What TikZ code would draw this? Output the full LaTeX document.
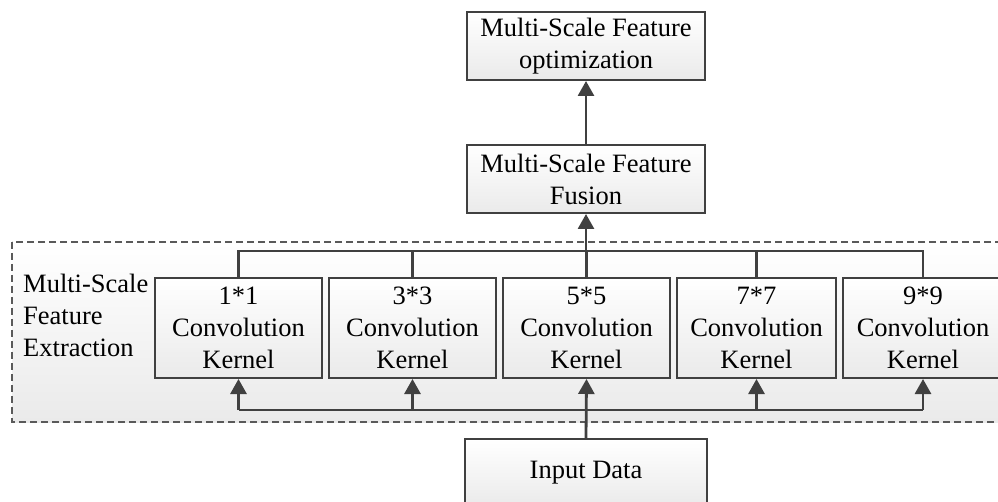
\documentclass[tikz,border=0pt]{standalone}
\usepackage{fontspec}
\setmainfont{Liberation Serif}
\usetikzlibrary{positioning,arrows.meta}
\definecolor{linegray}{HTML}{404040}
\definecolor{dashgray}{HTML}{5A5A5A}
\definecolor{shadegray}{HTML}{EAEAEA}

\tikzset{
  box/.style={draw=linegray, line width=2pt, top color=white, bottom color=shadegray,
    align=center, inner sep=0pt, font=\fontsize{26.5}{32}\selectfont},
  kernelbox/.style={box, minimum height=100pt},
  conn/.style={draw=linegray, line width=2.8pt},
  arrow/.style={conn, -{Triangle[length=15pt,width=16pt]}}
}

\begin{document}
\begin{tikzpicture}[x=1pt,y=-1pt]
\useasboundingbox (0,0) rectangle (998,502);
% Dashed region for the extraction stage
\draw[dashgray, line width=1.5pt, dash pattern=on 7pt off 4pt,
  top color=white, bottom color=shadegray] (12,242) rectangle (1020,422);
\node[anchor=north west, align=left, inner sep=0pt,
  font=\fontsize{26.5}{32}\selectfont] (extlabel) at (23,274) {Multi-Scale\\Feature\\Extraction};
% Top boxes
\node[box, minimum width=238pt, minimum height=68pt] (optim) at (586,46) {Multi-Scale Feature\\optimization};
\node[box, minimum width=238pt, minimum height=68pt] (fusion) at (586,179) {Multi-Scale Feature\\Fusion};
% Kernels
\foreach \k/\x/\w in {1/238.5/167, 3/412.5/167, 5/586.5/167, 7/756.5/159, 9/923/160}
  \node[kernelbox, minimum width=\w pt] (k\k) at (\x,328) {\k*\k\\Convolution\\Kernel};
% Input
\node[box, minimum width=242pt, minimum height=68pt] (input) at (586,473) {Input Data};
% Bus lines
\coordinate (topbus) at (0,251);
\coordinate (botbus) at (0,410);
\draw[conn] (k1.north) -- (k1.north |- topbus) -- (k9.north |- topbus) -- (k9.north);
\foreach \k in {3,5,7}
  \draw[conn] (k\k.north) -- (k\k.north |- topbus);
\draw[arrow] (fusion.south |- topbus) -- (fusion.south);
\draw[arrow] (fusion.north) -- (optim.south);
\draw[conn] (k1.south |- botbus) -- (k9.south |- botbus);
\foreach \k in {1,3,7,9}
  \draw[arrow] (k\k.south |- botbus) -- (k\k.south);
\draw[arrow] (input.north) -- (k5.south);
\end{tikzpicture}
\end{document}
